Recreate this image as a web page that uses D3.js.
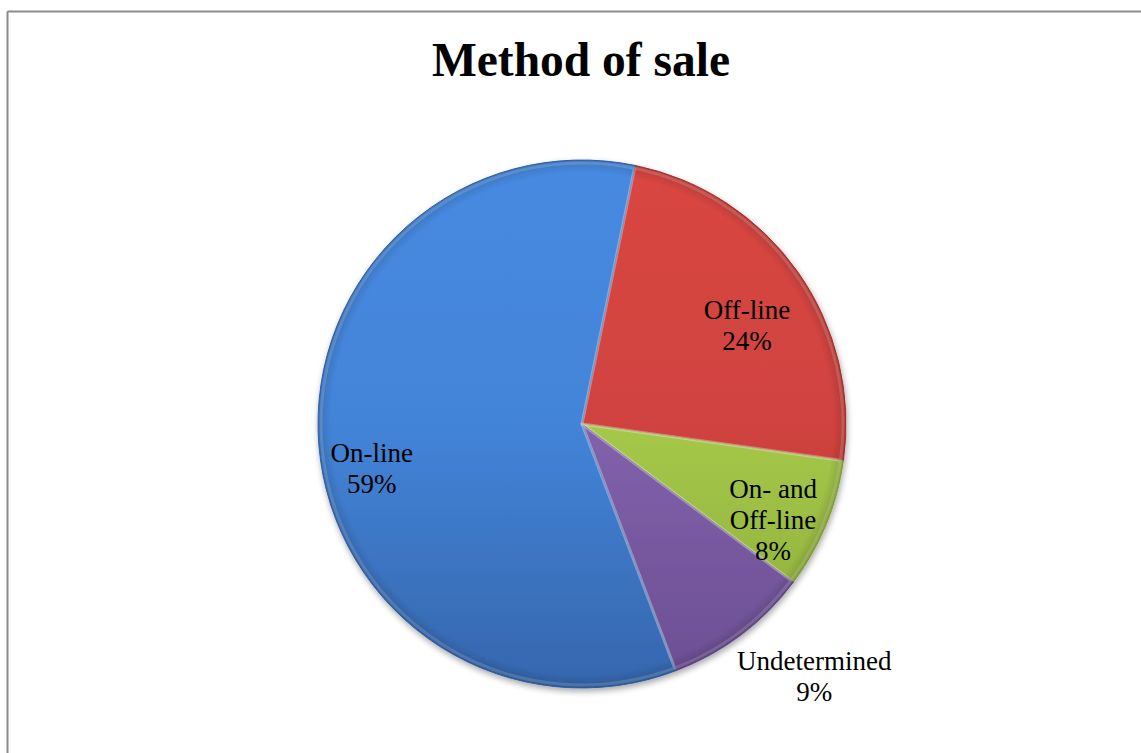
<!DOCTYPE html>
<html>
<head>
<meta charset="utf-8">
<script src="https://cdn.jsdelivr.net/npm/d3@7"></script>
<style>
  html, body { margin: 0; padding: 0; background: #fff; }
  svg { display: block; }
</style>
</head>
<body>
<svg id="chart" width="1141" height="753"></svg>
<script>
// ---- data ----
const title = "Method of sale";
const categories = ["Off-line", "On- and Off-line", "Undetermined", "On-line"];
const labelLines = [["Off-line"], ["On- and", "Off-line"], ["Undetermined"], ["On-line"]];
const values = [24, 8, 9, 59];
const colors = ["#d0433f", "#a5c849", "#8262ab", "#4384d8"];
const darkColors = ["#b33432", "#8cab3a", "#6a4e92", "#3566ad"];

// ---- layout ----
const W = 1141, H = 753;
const cx = 582, cy = 424, R = 264;
const startAngle = 11.6 * Math.PI / 180;
const svg = d3.select("#chart");

// frame
svg.append("line").attr("x1", 7.5).attr("y1", 11.5).attr("x2", W).attr("y2", 11.5)
  .attr("stroke", "#8c8c8c").attr("stroke-width", 2);
svg.append("line").attr("x1", 7.5).attr("y1", 11.5).attr("x2", 7.5).attr("y2", H)
  .attr("stroke", "#8c8c8c").attr("stroke-width", 2);

// title
svg.append("text").attr("x", 581).attr("y", 76).attr("text-anchor", "middle")
  .attr("font-family", "'Liberation Serif', 'Times New Roman', serif")
  .attr("font-weight", "bold").attr("font-size", 47.5).attr("fill", "#000")
  .text(title);

const defs = svg.append("defs");
const shadow = defs.append("filter").attr("id", "shadow").attr("x", "-20%").attr("y", "-20%").attr("width", "140%").attr("height", "140%");
shadow.append("feGaussianBlur").attr("in", "SourceAlpha").attr("stdDeviation", 3).attr("result", "b");
shadow.append("feOffset").attr("in", "b").attr("dx", 1).attr("dy", 3).attr("result", "o");
shadow.append("feComponentTransfer").attr("in", "o").attr("result", "s")
  .append("feFuncA").attr("type", "linear").attr("slope", 0.35);
const merge = shadow.append("feMerge");
merge.append("feMergeNode").attr("in", "s");
merge.append("feMergeNode").attr("in", "SourceGraphic");

colors.forEach((c, i) => {
  const g = defs.append("linearGradient").attr("id", "grad" + i)
    .attr("gradientUnits", "userSpaceOnUse")
    .attr("x1", 0).attr("y1", -R).attr("x2", 0).attr("y2", R);
  g.append("stop").attr("offset", "0%").attr("stop-color", d3.color(c).brighter(0.12));
  g.append("stop").attr("offset", "50%").attr("stop-color", c);
  g.append("stop").attr("offset", "100%").attr("stop-color", darkColors[i]);
});
// rim shading
const rg = defs.append("radialGradient").attr("id", "rim")
  .attr("gradientUnits", "userSpaceOnUse").attr("cx", 0).attr("cy", 0).attr("r", R);
rg.append("stop").attr("offset", "0%").attr("stop-color", "#000").attr("stop-opacity", 0);
rg.append("stop").attr("offset", "95%").attr("stop-color", "#000").attr("stop-opacity", 0);
rg.append("stop").attr("offset", "100%").attr("stop-color", "#000").attr("stop-opacity", 0.15);

const pie = d3.pie().sort(null).value(d => d)
  .startAngle(startAngle).endAngle(startAngle + 2 * Math.PI);
const arcs = pie(values);
const arc = d3.arc().innerRadius(0).outerRadius(R);
const innerArc = d3.arc().innerRadius(0).outerRadius(R - 3);

const g = svg.append("g").attr("transform", `translate(${cx},${cy})`);
g.append("g").attr("filter", "url(#shadow)")
  .selectAll("path").data(arcs).join("path")
  .attr("d", arc)
  .attr("fill", (d, i) => `url(#grad${i})`)
  .attr("stroke", (d, i) => darkColors[i])
  .attr("stroke-width", 1)
  .attr("stroke-linejoin", "round");
// bevel highlight
g.append("g").selectAll("path").data(arcs).join("path")
  .attr("d", innerArc)
  .attr("fill", "none")
  .attr("stroke", "#ffffff").attr("stroke-opacity", 0.18)
  .attr("stroke-width", 3).attr("stroke-linejoin", "round");
g.append("circle").attr("r", R).attr("fill", "url(#rim)");

// labels
const labelFactor = [0.727, 0.81, 1.30, 0.814];
const angleShift = [4.5, 4.3, -5.6, -7.4]; // degrees, label placement tweak
const fontSize = 27, lineH = 31;
arcs.forEach((a, i) => {
  const mid = (a.startAngle + a.endAngle) / 2 + angleShift[i] * Math.PI / 180;
  const r = R * labelFactor[i];
  const x = Math.sin(mid) * r, y = -Math.cos(mid) * r;
  const lines = labelLines[i].concat([values[i] + "%"]);
  const t = g.append("text").attr("text-anchor", "middle")
    .attr("font-family", "'Liberation Serif', 'Times New Roman', serif")
    .attr("font-size", fontSize).attr("fill", "#000");
  const y0 = y - (lines.length - 1) * lineH / 2 + 8.5;
  lines.forEach((l, j) => {
    t.append("tspan").attr("x", x).attr("y", y0 + j * lineH).text(l);
  });
});
</script>
</body>
</html>
